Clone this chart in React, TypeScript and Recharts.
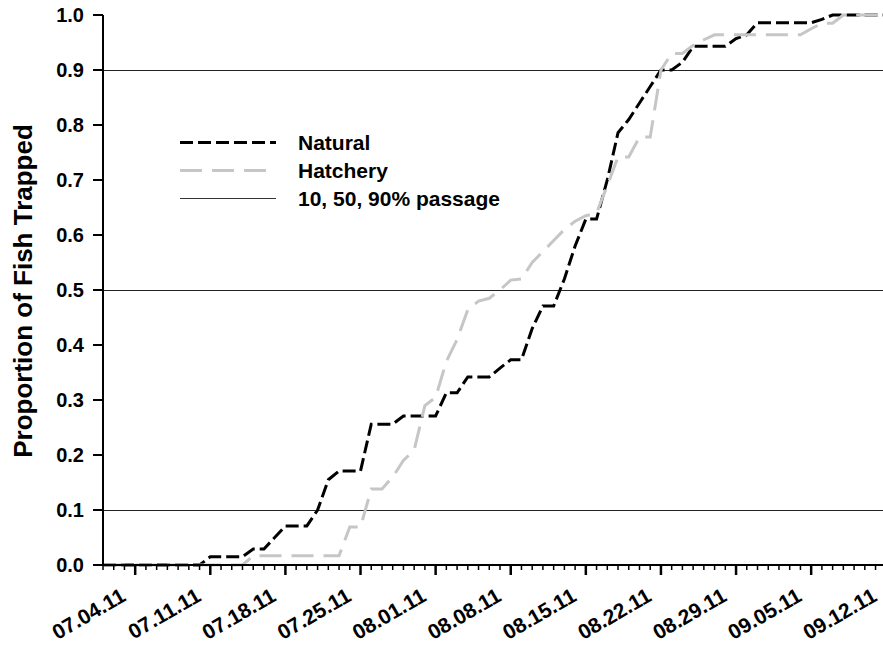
import React from 'react';
import { LineChart, Line, XAxis, YAxis, ReferenceLine, Legend } from 'recharts';

// day offsets from 07.04.11 (07.01.11 = -3)
const days = [
  -3, -2, -1, 0, 1, 2, 3, 4, 5, 6, 7, 8, 9, 10, 11, 12, 13, 14, 15, 16, 17, 18, 19, 20, 21, 22, 23, 24,
  25, 26, 27, 28, 29, 30, 31, 32, 33, 34, 35, 36, 37, 38, 39, 40, 41, 42, 43, 44, 45, 46, 47, 48, 49, 50,
  51, 52, 53, 54, 55, 56, 57, 58, 59, 60, 61, 62, 63, 64, 65, 66, 67, 68, 69, 70,
];

const natural = [
  0, 0, 0, 0, 0, 0, 0, 0, 0, 0, 0.015, 0.015, 0.015, 0.015, 0.029, 0.029, 0.05, 0.071, 0.071, 0.071,
  0.1, 0.155, 0.171, 0.171, 0.171, 0.256, 0.256, 0.256, 0.271, 0.271, 0.271, 0.271, 0.313, 0.313,
  0.342, 0.342, 0.342, 0.358, 0.373, 0.373, 0.43, 0.471, 0.471, 0.52, 0.58, 0.629, 0.629, 0.7, 0.786,
  0.81, 0.84, 0.87, 0.9, 0.9, 0.914, 0.943, 0.943, 0.943, 0.943, 0.957, 0.964, 0.986, 0.986, 0.986,
  0.986, 0.986, 0.986, 0.992, 1, 1, 1, 1, 1, 1,
];

const hatchery = [
  0, 0, 0, 0, 0, 0, 0, 0, 0, 0, 0, 0, 0, 0, 0.017, 0.017, 0.017, 0.017, 0.017, 0.017, 0.017, 0.017,
  0.017, 0.069, 0.069, 0.138, 0.138, 0.16, 0.19, 0.209, 0.29, 0.305, 0.37, 0.41, 0.464, 0.48, 0.485,
  0.5, 0.518, 0.52, 0.55, 0.57, 0.59, 0.61, 0.625, 0.635, 0.64, 0.69, 0.742, 0.742, 0.778, 0.778, 0.9,
  0.93, 0.93, 0.945, 0.955, 0.964, 0.964, 0.964, 0.964, 0.964, 0.964, 0.964, 0.964, 0.964, 0.975,
  0.985, 0.985, 1, 1, 1, 1, 1,
];

const majorDays = [0, 7, 14, 21, 28, 35, 42, 49, 56, 63, 70];
const tickLabels = [
  '07.04.11', '07.11.11', '07.18.11', '07.25.11', '08.01.11', '08.08.11',
  '08.15.11', '08.22.11', '08.29.11', '09.05.11', '09.12.11',
];
const yTicks = [0, 0.1, 0.2, 0.3, 0.4, 0.5, 0.6, 0.7, 0.8, 0.9, 1.0];
const passageLevels = [0.1, 0.5, 0.9];

const FONT = '"Liberation Sans", Arial, Helvetica, sans-serif';

const legendItems = [
  { label: 'Natural', stroke: '#000', dash: '13 5', width: 3 },
  { label: 'Hatchery', stroke: '#c6c6c6', dash: '22 10', width: 3 },
  { label: '10, 50, 90% passage', stroke: '#333', dash: undefined, width: 1 },
];

const data = days.map((d, i) => ({ day: d, natural: natural[i], hatchery: hatchery[i] }));

function DateTick(props: any) {
  const { x, y, payload } = props;
  const idx = majorDays.indexOf(payload.value);
  const major = idx >= 0;
  const lx = x - 8;
  const ly = y + 35;
  return (
    <g>
      <line x1={x} x2={x} y1={y} y2={y + (major ? 10 : 5)} stroke="#000" strokeWidth={major ? 2.5 : 1.5} />
      {major && (
        <text
          x={lx}
          y={ly}
          transform={`rotate(-30 ${lx} ${ly})`}
          textAnchor="end"
          fontFamily={FONT}
          fontWeight="bold"
          fontSize={21}
          fill="#000"
        >
          {tickLabels[idx]}
        </text>
      )}
    </g>
  );
}

function LegendBox() {
  return (
    <svg width={360} height={90}>
      {legendItems.map((it, i) => (
        <g key={it.label}>
          <line
            x1={0}
            x2={96}
            y1={14.5 + i * 28}
            y2={14.5 + i * 28}
            stroke={it.stroke}
            strokeWidth={it.width}
            strokeDasharray={it.dash}
          />
          <text
            x={118}
            y={14 + i * 28}
            dominantBaseline="central"
            fontFamily={FONT}
            fontWeight="bold"
            fontSize={21}
            fill="#000"
          >
            {it.label}
          </text>
        </g>
      ))}
    </svg>
  );
}

export default function App() {
  return (
    <div style={{ position: 'absolute', left: 0, top: 0, width: 883, height: 647, overflow: 'hidden', background: '#fff' }}>
      <LineChart width={900} height={647} data={data} margin={{ top: 15, right: 3, bottom: 22, left: 0 }}>
        <XAxis
          dataKey="day"
          type="number"
          domain={[-3, 71]}
          ticks={days}
          interval={0}
          tickSize={0}
          tickMargin={0}
          tickLine={false}
          tick={<DateTick />}
          height={60}
          axisLine={{ stroke: '#000', strokeWidth: 2 }}
        />
        <YAxis
          type="number"
          domain={[0, 1]}
          ticks={yTicks}
          interval={0}
          width={103}
          tickSize={10}
          tickMargin={9}
          tickFormatter={(v: number) => v.toFixed(1)}
          tick={{ fill: '#000', fontSize: 20, fontWeight: 'bold', fontFamily: FONT }}
          tickLine={{ stroke: '#000', strokeWidth: 2 }}
          axisLine={{ stroke: '#000', strokeWidth: 2 }}
          label={{
            content: () => (
              <text
                x={32}
                y={291}
                transform="rotate(-90 32 291)"
                textAnchor="middle"
                fontFamily={FONT}
                fontWeight="bold"
                fontSize={26}
                fill="#000"
              >
                Proportion of Fish Trapped
              </text>
            ),
          }}
        />
        {passageLevels.map((lvl) => (
          <ReferenceLine key={lvl} y={lvl} stroke="#222" strokeWidth={1} shapeRendering="crispEdges" />
        ))}
        <Legend
          layout="vertical"
          align="center"
          verticalAlign="middle"
          content={() => <LegendBox />}
          wrapperStyle={{ position: 'absolute', left: 180, top: 128, width: 360 }}
        />
        <Line
          type="linear"
          dataKey="natural"
          stroke="#000"
          strokeWidth={3}
          strokeDasharray="13 5"
          dot={false}
          isAnimationActive={false}
        />
        <Line
          type="linear"
          dataKey="hatchery"
          stroke="#c6c6c6"
          strokeWidth={3}
          strokeDasharray="22 10"
          dot={false}
          isAnimationActive={false}
        />
      </LineChart>
    </div>
  );
}
